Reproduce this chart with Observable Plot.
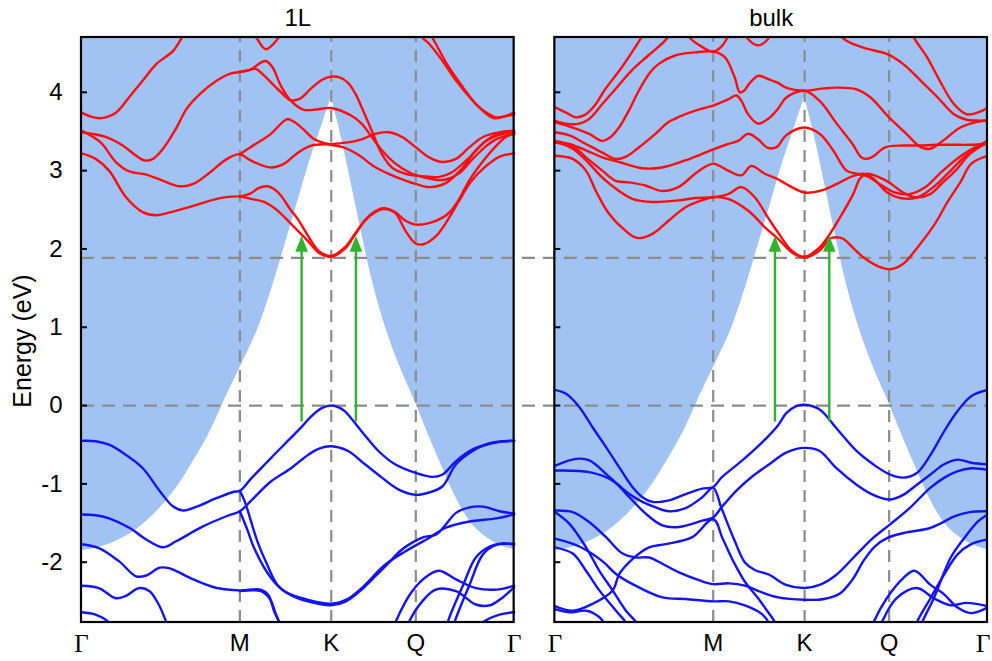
<!DOCTYPE html>
<html><head><meta charset="utf-8">
<script src="https://cdn.jsdelivr.net/npm/d3@7"></script>
<script src="https://cdn.jsdelivr.net/npm/@observablehq/plot@0.6"></script>
<style>html,body{margin:0;padding:0;background:#fff;}</style>
</head><body><div id="chart"></div>
<script>
// ---------- data (k along Γ-M-K-Γ path, E in eV) ----------
const panelNames = ["1L", "bulk"];
const pathLength = 2.732;
const panelGap = 0.257;
const panelOffsets = [0, pathLength + panelGap];
const kTicks = [0, 1, 1.577, 2.111, 2.732];
const kLabels = ["Γ", "M", "K", "Q", "Γ"];
const dashedK = [1, 1.577, 2.111];
const energyTicks = [-2, -1, 0, 1, 2, 3, 4];
const energyMin = -2.77, energyMax = 4.70;
const refEnergies = [0, 1.886];
const arrowK = [1.39, 1.733];
const arrowFrom = -0.21, arrowTo = 2.17;

// shaded boundary (blue above)
const coneRise = [[0,-1.85],[0.174,-1.77],[0.387,-1.52],[0.494,-1.31],[0.60,-1.05],[0.706,-0.71],[0.813,-0.33],[0.919,0.14],[1.0,0.48],[1.11,0.96],[1.343,2.45],[1.449,3.17],[1.513,3.55],[1.577,3.94]];
const coneFall = [[1.577,3.94],[1.641,3.42],[1.705,2.82],[1.769,2.20],[1.833,1.62],[1.907,1.08],[2.0,0.55],[2.11,0.03],[2.19,-0.37],[2.27,-0.75],[2.386,-1.26],[2.46,-1.50],[2.535,-1.65],[2.663,-1.80],[2.732,-1.84]];

const cond1L = [
 [[0,3.22],[0.089,3.15],[0.174,3.0],[0.281,2.66],[0.387,2.47],[0.472,2.43],[0.6,2.49],[0.706,2.55],[0.855,2.64],[1.0,2.67],[1.068,2.64],[1.153,2.60],[1.238,2.49],[1.323,2.32],[1.43,2.10],[1.50,1.95],[1.577,1.90],[1.662,2.0],[1.726,2.18],[1.79,2.36],[1.854,2.47],[1.907,2.51],[1.98,2.46],[2.046,2.23],[2.11,2.07],[2.16,2.06],[2.237,2.16],[2.30,2.33],[2.38,2.60],[2.46,2.86],[2.55,3.05],[2.64,3.18],[2.732,3.22]],
 [[1.0,2.67],[1.068,2.71],[1.12,2.78],[1.174,2.80],[1.22,2.76],[1.26,2.68],[1.32,2.50],[1.366,2.38],[1.43,2.17],[1.50,1.97],[1.577,1.91],[1.662,2.02],[1.726,2.19],[1.79,2.37],[1.854,2.48],[1.907,2.52],[1.98,2.47],[2.046,2.36],[2.11,2.31],[2.195,2.33],[2.28,2.40],[2.33,2.48],[2.38,2.62],[2.45,2.88],[2.535,3.12],[2.62,3.32],[2.68,3.43],[2.732,3.47]],
 [[0,3.51],[0.121,3.36],[0.217,3.11],[0.302,2.99],[0.409,2.95],[0.515,2.87],[0.621,2.80],[0.706,2.83],[0.813,2.98],[0.919,3.15],[1.0,3.21],[1.068,3.13],[1.196,3.04],[1.28,3.09],[1.36,3.22],[1.45,3.32],[1.577,3.34],[1.683,3.36],[1.769,3.40],[1.854,3.47],[1.94,3.49],[2.024,3.43],[2.11,3.30],[2.195,3.17],[2.28,3.11],[2.365,3.15],[2.45,3.30],[2.535,3.43],[2.64,3.49],[2.732,3.51]],
 [[1.0,3.21],[1.068,3.30],[1.196,3.47],[1.27,3.62],[1.302,3.66],[1.345,3.62],[1.40,3.53],[1.47,3.40],[1.577,3.33],[1.65,3.30],[1.75,3.20],[1.85,3.05],[1.95,2.95],[2.05,2.87],[2.11,2.83],[2.2,2.79],[2.3,2.84],[2.4,3.02],[2.5,3.28],[2.6,3.44],[2.732,3.49]],
 [[0,3.49],[0.153,3.43],[0.26,3.32],[0.345,3.19],[0.398,3.13],[0.451,3.15],[0.515,3.28],[0.6,3.55],[0.664,3.79],[0.749,3.98],[0.855,4.15],[0.94,4.24],[1.0,4.26],[1.068,4.29],[1.132,4.38],[1.164,4.40],[1.206,4.32],[1.26,4.08],[1.323,3.89],[1.40,3.78],[1.48,3.78],[1.577,3.80],[1.705,3.70],[1.769,3.60],[1.833,3.43],[1.897,3.26],[1.982,3.09],[2.088,2.96],[2.195,2.90],[2.28,2.88],[2.38,2.96],[2.48,3.17],[2.6,3.38],[2.732,3.47]],
 [[1.0,4.26],[1.05,4.28],[1.10,4.30],[1.15,4.22],[1.25,4.02],[1.32,3.90],[1.38,3.92],[1.45,4.05],[1.52,4.16],[1.577,4.20],[1.63,4.19],[1.683,4.12],[1.73,3.98],[1.769,3.81],[1.833,3.51],[1.897,3.21],[1.96,3.04],[2.046,2.96],[2.152,2.93],[2.26,2.92],[2.34,2.98],[2.45,3.17],[2.556,3.38],[2.66,3.47],[2.732,3.49]],
 [[0,3.74],[0.06,3.69],[0.121,3.67],[0.217,3.74],[0.302,3.94],[0.387,4.15],[0.472,4.36],[0.579,4.53],[0.632,4.69],[0.7,4.88],[0.78,5.05]],
 [[1.03,4.95],[1.11,4.68],[1.164,4.55],[1.238,4.68],[1.31,4.95]],
 [[2.08,4.95],[2.152,4.70],[2.195,4.62],[2.28,4.40],[2.365,4.15],[2.45,3.94],[2.535,3.77],[2.62,3.68],[2.68,3.70],[2.732,3.74]],
 [[2.17,4.95],[2.216,4.70],[2.237,4.62],[2.32,4.32],[2.41,4.06],[2.49,3.85],[2.60,3.67],[2.67,3.69],[2.732,3.72]]
];

const val1L = [
 [[0,-0.45],[0.089,-0.455],[0.174,-0.50],[0.281,-0.63],[0.387,-0.80],[0.494,-1.09],[0.579,-1.29],[0.643,-1.34],[0.728,-1.29],[0.855,-1.18],[0.962,-1.10],[1.0,-1.09],[1.068,-0.94],[1.196,-0.67],[1.323,-0.41],[1.40,-0.25],[1.449,-0.14],[1.52,-0.03],[1.577,0.0],[1.62,-0.02],[1.662,-0.07],[1.769,-0.33],[1.875,-0.58],[1.98,-0.75],[2.11,-0.86],[2.216,-0.91],[2.28,-0.88],[2.365,-0.71],[2.47,-0.56],[2.577,-0.49],[2.65,-0.46],[2.732,-0.45]],
 [[0,-1.39],[0.09,-1.40],[0.174,-1.44],[0.302,-1.56],[0.409,-1.71],[0.515,-1.81],[0.6,-1.73],[0.77,-1.54],[0.919,-1.41],[1.0,-1.35],[1.068,-1.22],[1.196,-0.97],[1.323,-0.80],[1.43,-0.63],[1.50,-0.55],[1.577,-0.52],[1.683,-0.58],[1.79,-0.75],[1.897,-0.92],[2.0,-1.07],[2.11,-1.14],[2.195,-1.11],[2.28,-1.03],[2.365,-0.75],[2.47,-0.58],[2.577,-0.48],[2.732,-0.45]],
 [[1.0,-1.09],[1.03,-1.22],[1.11,-1.73],[1.17,-2.02],[1.238,-2.29],[1.323,-2.42],[1.43,-2.50],[1.577,-2.55],[1.67,-2.50],[1.769,-2.35],[1.86,-2.17],[1.94,-2.01],[2.01,-1.86],[2.088,-1.75],[2.16,-1.68],[2.237,-1.65],[2.30,-1.52],[2.365,-1.37],[2.45,-1.30],[2.535,-1.29],[2.64,-1.35],[2.732,-1.38]],
 [[1.0,-1.35],[1.05,-1.60],[1.09,-1.82],[1.196,-2.20],[1.28,-2.37],[1.43,-2.48],[1.577,-2.53],[1.68,-2.47],[1.769,-2.33],[1.919,-2.03],[2.046,-1.86],[2.195,-1.69],[2.30,-1.56],[2.45,-1.48],[2.62,-1.44],[2.732,-1.39]],
 [[0,-1.77],[0.11,-1.82],[0.238,-1.99],[0.345,-2.18],[0.409,-2.17],[0.494,-2.07],[0.557,-2.08],[0.706,-2.22],[0.855,-2.33],[1.0,-2.36],[1.132,-2.35],[1.18,-2.42],[1.217,-2.63],[1.249,-2.77],[1.27,-2.9]],
 [[1.0,-2.37],[1.132,-2.37],[1.19,-2.47],[1.225,-2.65],[1.255,-2.8],[1.27,-2.9]],
 [[0,-2.30],[0.11,-2.33],[0.217,-2.46],[0.28,-2.43],[0.366,-2.33],[0.43,-2.37],[0.49,-2.55],[0.536,-2.77],[0.56,-2.9]],
 [[0,-2.64],[0.089,-2.67],[0.174,-2.77],[0.2,-2.85]],
 [[1.96,-2.9],[1.982,-2.77],[2.088,-2.37],[2.195,-2.16],[2.26,-2.11],[2.365,-2.22],[2.49,-2.33],[2.62,-2.35],[2.732,-2.30]],
 [[2.05,-2.9],[2.067,-2.77],[2.152,-2.50],[2.237,-2.35],[2.365,-2.37],[2.49,-2.54],[2.58,-2.55],[2.66,-2.45],[2.732,-2.32]],
 [[2.30,-2.9],[2.312,-2.77],[2.41,-2.29],[2.49,-1.94],[2.577,-1.80],[2.65,-1.76],[2.732,-1.77]],
 [[2.34,-2.9],[2.355,-2.77],[2.45,-2.29],[2.535,-1.90],[2.62,-1.78],[2.732,-1.77]],
 [[2.50,-2.9],[2.535,-2.77],[2.64,-2.67],[2.732,-2.64]]
];

const condBulk = [
 [[0,3.81],[0.071,3.74],[0.134,3.68],[0.196,3.72],[0.259,3.85],[0.311,4.02],[0.423,4.32],[0.528,4.64],[0.56,4.75],[0.6,4.9]],
 [[0,3.64],[0.071,3.60],[0.154,3.60],[0.217,3.66],[0.30,3.85],[0.382,4.04],[0.486,4.28],[0.59,4.47],[0.696,4.66],[0.73,4.75],[0.78,4.9]],
 [[0,3.62],[0.113,3.55],[0.217,3.47],[0.30,3.38],[0.353,3.43],[0.405,3.55],[0.468,3.77],[0.53,4.02],[0.60,4.25],[0.654,4.36],[0.759,4.47],[0.885,4.51],[1.0,4.52],[1.073,4.45],[1.136,4.19],[1.168,4.0],[1.20,4.03],[1.22,4.09],[1.283,4.21],[1.346,4.17],[1.409,4.12],[1.46,4.06],[1.577,4.02],[1.70,4.05],[1.78,4.06],[1.90,4.04],[1.99,3.94],[2.11,3.68],[2.22,3.47],[2.31,3.30],[2.37,3.28],[2.45,3.38],[2.56,3.55],[2.66,3.62],[2.732,3.64]],
 [[0.80,4.9],[0.85,4.70],[0.93,4.58],[1.0,4.52],[1.05,4.58],[1.09,4.70],[1.13,4.9]],
 [[1.18,4.85],[1.22,4.68],[1.283,4.60],[1.346,4.68],[1.38,4.85]],
 [[0,3.49],[0.092,3.45],[0.196,3.34],[0.30,3.23],[0.384,3.15],[0.45,3.18],[0.52,3.28],[0.635,3.47],[0.718,3.62],[0.823,3.72],[0.927,3.79],[1.0,3.83],[1.094,3.91],[1.147,3.96],[1.178,3.89],[1.22,3.72],[1.283,3.60],[1.346,3.66],[1.409,3.79],[1.46,3.93],[1.577,4.02],[1.672,3.89],[1.78,3.60],[1.88,3.34],[1.93,3.18],[1.96,3.15],[2.0,3.17],[2.09,3.30],[2.20,3.32],[2.30,3.32],[2.41,3.33],[2.52,3.33],[2.62,3.33],[2.732,3.34]],
 [[0,3.38],[0.092,3.34],[0.196,3.26],[0.30,3.17],[0.405,3.11],[0.551,3.03],[0.676,3.04],[0.823,3.13],[0.927,3.21],[1.0,3.27],[1.094,3.34],[1.157,3.38],[1.22,3.47],[1.283,3.40],[1.346,3.29],[1.40,3.30],[1.46,3.45],[1.577,3.55],[1.672,3.47],[1.757,3.26],[1.842,3.0],[1.905,2.96],[1.97,2.93],[2.05,2.83],[2.15,2.72],[2.24,2.70],[2.34,2.79],[2.45,3.0],[2.58,3.21],[2.732,3.38]],
 [[0,3.36],[0.134,3.28],[0.196,3.17],[0.30,3.0],[0.384,2.87],[0.468,2.85],[0.572,2.81],[0.676,2.74],[0.78,2.79],[0.885,2.96],[0.95,3.05],[1.0,3.09],[1.05,3.05],[1.094,3.0],[1.178,2.94],[1.24,3.06],[1.325,2.96],[1.409,2.89],[1.46,2.83],[1.577,2.72],[1.69,2.75],[1.80,2.85],[1.88,2.93],[1.95,2.96],[2.01,2.90],[2.10,2.72],[2.18,2.65],[2.29,2.66],[2.39,2.79],[2.49,2.98],[2.60,3.20],[2.732,3.36]],
 [[0,3.37],[0.113,3.28],[0.217,3.09],[0.30,2.91],[0.405,2.74],[0.489,2.64],[0.614,2.60],[0.78,2.62],[0.885,2.65],[1.0,2.66],[1.094,2.70],[1.178,2.79],[1.262,2.66],[1.346,2.40],[1.409,2.21],[1.50,1.97],[1.577,1.90],[1.672,2.02],[1.736,2.19],[1.80,2.40],[1.884,2.70],[1.927,2.90],[1.97,2.96],[2.03,2.93],[2.11,2.85],[2.20,2.72],[2.28,2.66],[2.37,2.70],[2.45,2.85],[2.53,3.0],[2.62,3.21],[2.732,3.36]],
 [[0,3.19],[0.113,3.15],[0.196,3.0],[0.259,2.74],[0.342,2.45],[0.447,2.23],[0.52,2.14],[0.614,2.19],[0.718,2.36],[0.823,2.53],[0.927,2.62],[1.0,2.66],[1.094,2.64],[1.22,2.49],[1.325,2.28],[1.409,2.13],[1.50,1.95],[1.577,1.89],[1.672,1.98],[1.736,2.13],[1.778,2.15],[1.82,2.13],[1.88,2.02],[1.95,1.89],[2.05,1.77],[2.12,1.74],[2.20,1.81],[2.29,2.02],[2.40,2.32],[2.48,2.6],[2.56,2.85],[2.63,3.09],[2.732,3.19]],
 [[1.76,4.9],[1.82,4.69],[1.948,4.57],[2.096,4.49],[2.20,4.36],[2.31,4.15],[2.415,3.94],[2.52,3.72],[2.60,3.65],[2.66,3.64],[2.732,3.64]],
 [[2.22,4.9],[2.27,4.69],[2.35,4.45],[2.43,4.15],[2.52,3.85],[2.60,3.72],[2.68,3.75],[2.732,3.80]]
];

const valBulk = [
 [[0,0.20],[0.071,0.15],[0.155,-0.02],[0.239,-0.28],[0.323,-0.53],[0.407,-0.79],[0.49,-1.04],[0.553,-1.17],[0.616,-1.23],[0.721,-1.21],[0.826,-1.13],[0.931,-1.06],[1.0,-1.04],[1.052,-0.92],[1.178,-0.71],[1.304,-0.48],[1.41,-0.25],[1.46,-0.1],[1.52,-0.01],[1.577,0.01],[1.672,-0.05],[1.778,-0.29],[1.905,-0.58],[2.01,-0.75],[2.115,-0.88],[2.20,-0.92],[2.286,-0.86],[2.372,-0.63],[2.458,-0.33],[2.543,-0.07],[2.629,0.12],[2.732,0.20]],
 [[0,-0.77],[0.134,-0.68],[0.218,-0.70],[0.344,-0.91],[0.47,-1.13],[0.553,-1.23],[0.637,-1.30],[0.721,-1.35],[0.826,-1.31],[0.931,-1.17],[1.0,-1.05],[1.052,-1.31],[1.136,-1.73],[1.199,-2.0],[1.262,-2.10],[1.354,-2.16],[1.46,-2.29],[1.577,-2.33],[1.672,-2.29],[1.778,-2.16],[1.905,-1.90],[2.01,-1.69],[2.115,-1.52],[2.24,-1.31],[2.37,-1.05],[2.46,-0.92],[2.54,-0.84],[2.63,-0.80],[2.732,-0.82]],
 [[0,-0.83],[0.218,-0.85],[0.365,-0.96],[0.47,-1.17],[0.574,-1.38],[0.679,-1.53],[0.784,-1.55],[0.931,-1.47],[1.0,-1.43],[1.052,-1.30],[1.15,-1.08],[1.25,-0.90],[1.354,-0.75],[1.46,-0.60],[1.577,-0.54],[1.672,-0.58],[1.778,-0.80],[1.905,-1.01],[2.01,-1.14],[2.115,-1.20],[2.20,-1.14],[2.286,-1.01],[2.372,-0.88],[2.458,-0.75],[2.543,-0.69],[2.629,-0.73],[2.732,-0.75]],
 [[0,-1.34],[0.113,-1.36],[0.218,-1.49],[0.323,-1.68],[0.428,-1.89],[0.512,-1.94],[0.595,-1.94],[0.679,-2.02],[0.784,-2.13],[0.91,-2.23],[1.0,-2.28],[1.1,-2.27],[1.2,-2.30],[1.3,-2.38],[1.41,-2.45],[1.577,-2.48],[1.70,-2.47],[1.80,-2.40],[1.88,-2.22],[1.95,-1.98],[2.02,-1.80],[2.10,-1.69],[2.22,-1.62],[2.36,-1.57],[2.44,-1.50],[2.53,-1.41],[2.62,-1.36],[2.732,-1.35]],
 [[0,-1.36],[0.092,-1.51],[0.197,-1.81],[0.281,-2.11],[0.365,-2.36],[0.449,-2.62],[0.52,-2.78],[0.55,-2.9]],
 [[0,-1.70],[0.155,-1.80],[0.302,-1.99],[0.386,-2.15],[0.491,-2.28],[0.68,-2.45],[0.826,-2.47],[1.0,-2.50],[1.1,-2.50],[1.2,-2.55],[1.3,-2.65],[1.35,-2.77],[1.37,-2.9]],
 [[0,-1.81],[0.113,-1.89],[0.197,-2.11],[0.281,-2.36],[0.386,-2.62],[0.449,-2.77],[0.47,-2.85]],
 [[0,-2.56],[0.113,-2.62],[0.239,-2.53],[0.365,-2.36],[0.407,-2.15],[0.49,-1.96],[0.595,-1.81],[0.70,-1.77],[0.868,-1.68],[1.0,-1.45],[1.06,-1.70],[1.13,-2.0],[1.2,-2.25],[1.28,-2.45],[1.34,-2.62],[1.39,-2.77],[1.41,-2.9]],
 [[0,-2.60],[0.09,-2.64],[0.2,-2.62],[0.28,-2.70],[0.32,-2.8]],
 [[1.99,-2.9],[2.012,-2.77],[2.096,-2.46],[2.202,-2.20],[2.271,-2.11],[2.372,-2.29],[2.458,-2.41],[2.543,-2.58],[2.629,-2.65],[2.732,-2.58]],
 [[2.04,-2.9],[2.064,-2.77],[2.158,-2.46],[2.286,-2.33],[2.393,-2.46],[2.50,-2.55],[2.60,-2.52],[2.732,-2.56]],
 [[2.27,-2.9],[2.286,-2.77],[2.372,-2.46],[2.458,-2.16],[2.543,-1.90],[2.629,-1.77],[2.732,-1.71]],
 [[2.30,-2.9],[2.319,-2.77],[2.393,-2.46],[2.50,-1.94],[2.586,-1.69],[2.672,-1.48],[2.732,-1.39]]
];

// ---------- build tables ----------
const W = 992, H = 661, mL = 81, mR = 5, mT = 37, mB = 39;
const xMax = panelOffsets[1] + pathLength;
const pxPerK = (W - mL - mR) / xMax;
const tickLenK = 6 / pxPerK;

const bandRows = [];
function pushBands(bands, p, kind) {
  bands.forEach((pts, i) => pts.forEach(([k, E]) =>
    bandRows.push({x: panelOffsets[p] + k, E, kind, id: `${p}-${kind}-${i}`})));
}
pushBands(cond1L, 0, "c"); pushBands(val1L, 0, "v");
pushBands(condBulk, 1, "c"); pushBands(valBulk, 1, "v");

const coneRows = [];
panelOffsets.forEach((o, p) => {
  coneRise.forEach(([k, E]) => coneRows.push({x: o + k, E, id: p + "r"}));
  coneFall.forEach(([k, E]) => coneRows.push({x: o + k, E, id: p + "f"}));
});
const dashRows = panelOffsets.flatMap(o => dashedK.map(k => o + k));
const frameRows = panelOffsets.map(o => ({x1: o, x2: o + pathLength}));
const tickRows = panelOffsets.flatMap(o => energyTicks.map(E => ({x: o, E})));
const labelRows = panelOffsets.flatMap((o, p) => kTicks.map((k, i) => ({x: o + k, text: kLabels[i], last: p === 1 && i === kTicks.length - 1})));
const titleRows = panelNames.map((t, i) => ({x: panelOffsets[i] + pathLength / 2, text: t}));
const arrowRows = panelOffsets.flatMap(o => arrowK.map(k => ({x: o + k})));

const red = "#ff0d0d", blue = "#1414ee", green = "#2fb32f", dashGray = "#8c8c8c";
const fontSans = "'Liberation Sans', Arial, Helvetica, sans-serif";
const fontSerif = "'Liberation Serif', 'Times New Roman', serif";

const chart = Plot.plot({
  width: W, height: H,
  marginLeft: mL, marginRight: mR, marginTop: mT, marginBottom: mB,
  style: {fontFamily: fontSans, fontSize: "24px", background: "#fff", color: "#000"},
  x: {domain: [0, xMax], axis: null},
  y: {domain: [energyMin, energyMax], ticks: energyTicks, tickFormat: d => String(d), tickSize: 0, tickPadding: 19, label: null},
  marks: [
    Plot.areaY(coneRows, {x: "x", y1: "E", y2: () => energyMax, z: "id", fill: "#a1c3f3", curve: "monotone-x", clip: true}),
    Plot.ruleX(dashRows, {x: d => d, y1: () => energyMin, y2: () => energyMax, stroke: dashGray, strokeWidth: 2.2, strokeDasharray: "12,8"}),
    Plot.ruleY(refEnergies, {y: d => d, stroke: dashGray, strokeWidth: 2.2, strokeDasharray: "13,8"}),
    Plot.line(bandRows.filter(d => d.kind === "c"), {x: "x", y: "E", z: "id", stroke: red, strokeWidth: 2.4, curve: "catmull-rom", clip: true}),
    Plot.line(bandRows.filter(d => d.kind === "v"), {x: "x", y: "E", z: "id", stroke: blue, strokeWidth: 2.4, curve: "catmull-rom", clip: true}),
    Plot.ruleX(arrowRows, {x: "x", y1: () => arrowFrom, y2: () => arrowTo - 0.15, stroke: green, strokeWidth: 2.4}),
    Plot.vector(arrowRows, {x: "x", y: () => arrowTo, length: 16, r: 6.3, shape: "spike", anchor: "end", fill: green, stroke: "none"}),
    Plot.ruleY(tickRows, {x1: d => d.x, x2: d => d.x + tickLenK, y: "E", stroke: "#000", strokeWidth: 2}),
    Plot.rect(frameRows, {x1: "x1", x2: "x2", y1: () => energyMin, y2: () => energyMax, stroke: "#000", strokeWidth: 2.2, fill: "none"}),
    Plot.text(titleRows, {x: "x", y: () => energyMax, text: "text", dy: -19, fontSize: 24}),
    Plot.text(labelRows.filter(d => d.text !== "Γ"), {x: "x", y: () => energyMin, text: "text", dy: 21, fontSize: 24}),
    Plot.text(labelRows.filter(d => d.text === "Γ" && !d.last), {x: "x", y: () => energyMin, text: "text", dy: 21, fontSize: 25, fontFamily: fontSerif}),
    Plot.text(labelRows.filter(d => d.last), {x: "x", y: () => energyMin, text: "text", dy: 21, dx: 3, textAnchor: "end", fontSize: 25, fontFamily: fontSerif}),
    Plot.text(["Energy (eV)"], {text: d => d, frameAnchor: "left", textAnchor: "middle", rotate: -90, dx: -59, dy: 11, fontSize: 25})
  ]
});
document.getElementById("chart").appendChild(chart);
</script>
</body></html>
